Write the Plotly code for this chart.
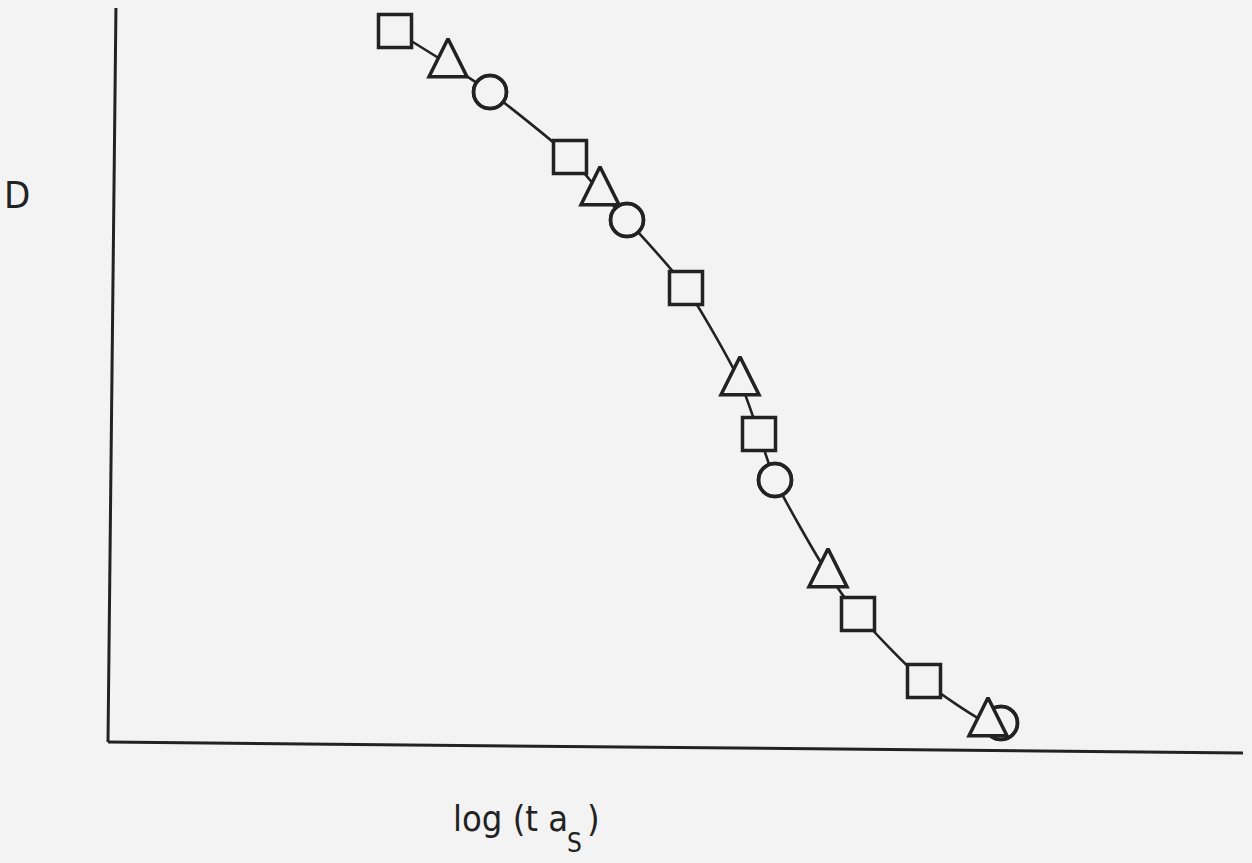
import plotly.graph_objects as go

# Master-curve data: D versus log(t a_S), grouped by the three temperature sets
square_x = [2.87, 4.62, 5.78, 6.51, 7.50, 8.16]
square_d = [7.11, 5.85, 4.54, 3.08, 1.28, 0.61]

triangle_x = [3.40, 4.92, 6.32, 7.20, 8.80]
triangle_d = [6.78, 5.50, 3.60, 1.68, 0.19]

circle_x = [3.82, 5.19, 6.67, 8.93]
circle_d = [6.50, 5.22, 2.62, 0.19]

X_RANGE = [0, 11.35]
Y_RANGE = [0, 7.34]

BG = "#f3f3f3"
INK = "#222222"
FONT = "Liberation Sans Narrow, DejaVu Sans Condensed, Liberation Sans, sans-serif"

W, H = 1252, 863
M = dict(l=108, r=9, t=8, b=121)
plot_h = H - M["t"] - M["b"]

SQ_SIZE = 33
CI_SIZE = 33
TRI_SIZE = 38
EDGE = 3.5
# arrow-up markers hang from their tip; shift their axis so the triangle centroid sits on the value
tri_shift = (2.0 / 3.0) * TRI_SIZE * (Y_RANGE[1] - Y_RANGE[0]) / plot_h

# smooth curve through every point, in order of abscissa
pts = sorted(zip(square_x + triangle_x + circle_x, square_d + triangle_d + circle_d))
curve_x = [p[0] for p in pts]
curve_d = [p[1] for p in pts]

fig = go.Figure()
fig.add_trace(go.Scatter(
    x=curve_x, y=curve_d, mode="lines",
    line=dict(color=INK, width=2.6, shape="spline", smoothing=0.7),
    hoverinfo="skip", showlegend=False,
))
fig.add_trace(go.Scatter(
    x=circle_x, y=circle_d, mode="markers", cliponaxis=False,
    marker=dict(symbol="circle", size=CI_SIZE, color=BG, line=dict(color=INK, width=EDGE)),
    showlegend=False,
))
fig.add_trace(go.Scatter(
    x=square_x, y=square_d, mode="markers", cliponaxis=False,
    marker=dict(symbol="square", size=SQ_SIZE, color=BG, line=dict(color=INK, width=EDGE)),
    showlegend=False,
))
fig.add_trace(go.Scatter(
    x=triangle_x, y=triangle_d, mode="markers", cliponaxis=False, yaxis="y2",
    marker=dict(symbol="arrow-up", size=TRI_SIZE, color=BG, line=dict(color=INK, width=EDGE)),
    showlegend=False,
))
# circle outlines redrawn on top so overlapping symbols keep both edges
fig.add_trace(go.Scatter(
    x=circle_x, y=circle_d, mode="markers", cliponaxis=False,
    marker=dict(symbol="circle-open", size=CI_SIZE, color=INK, line=dict(color=INK, width=EDGE)),
    showlegend=False, hoverinfo="skip",
))

axis_common = dict(visible=False, showgrid=False, zeroline=False, fixedrange=True)
fig.update_layout(
    width=W, height=H, margin=M,
    paper_bgcolor=BG, plot_bgcolor=BG,
    xaxis=dict(range=X_RANGE, **axis_common),
    yaxis=dict(range=Y_RANGE, **axis_common),
    yaxis2=dict(range=[Y_RANGE[0] - tri_shift, Y_RANGE[1] - tri_shift],
                overlaying="y", **axis_common),
    shapes=[
        # hand-drawn axes, very slightly askew
        dict(type="line", xref="paper", yref="paper", x0=0, y0=0, x1=0.007, y1=1,
             line=dict(color=INK, width=3)),
        dict(type="line", xref="paper", yref="paper", x0=0, y0=0, x1=1, y1=-0.015,
             line=dict(color=INK, width=3)),
    ],
    annotations=[
        dict(text="D", xref="paper", yref="paper", x=-0.080, y=0.745,
             xanchor="center", yanchor="middle", showarrow=False,
             font=dict(family=FONT, size=38, color=INK)),
        dict(text="log (t a", xref="paper", yref="paper", x=0.302, y=-0.104,
             xanchor="left", yanchor="middle", showarrow=False,
             font=dict(family=FONT, size=36, color=INK)),
        dict(text="S", xref="paper", yref="paper", x=0.411, y=-0.137,
             xanchor="center", yanchor="middle", showarrow=False,
             font=dict(family=FONT, size=26, color=INK)),
        dict(text=")", xref="paper", yref="paper", x=0.428, y=-0.104,
             xanchor="center", yanchor="middle", showarrow=False,
             font=dict(family=FONT, size=36, color=INK)),
    ],
)

fig.write_html("out.html")
